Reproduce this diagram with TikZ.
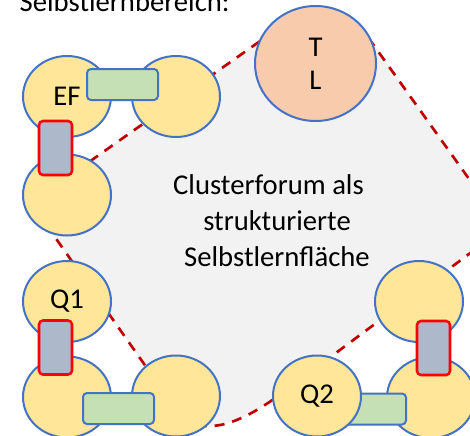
\documentclass[tikz,border=0pt]{standalone}
\usepackage{fontspec}
\setmainfont{Carlito}
\usetikzlibrary{shapes.geometric}
\definecolor{seatfill}{HTML}{FFE699}
\definecolor{seatline}{HTML}{4472C4}
\definecolor{coachfill}{HTML}{F8CBAD}
\definecolor{deskfill}{HTML}{C5E0B4}
\definecolor{boardfill}{HTML}{ADB9CA}
\definecolor{boardline}{HTML}{FF0000}
\definecolor{forumline}{HTML}{C00000}
\definecolor{forumfill}{HTML}{F2F2F2}
\tikzset{
	seat/.style={ellipse, draw=seatline, fill=seatfill, line width=1.5pt, minimum width=66pt, minimum height=60.75pt, inner sep=0pt},
	coach/.style={seat, fill=coachfill, minimum width=90.75pt, minimum height=86.25pt, align=center, font=\fontsize{21.5}{24.75}\selectfont},
	desk/.style={draw=seatline, fill=deskfill, line width=1.5pt, rounded corners=3pt, minimum width=53.25pt, minimum height=23.25pt, inner sep=0pt},
	board/.style={draw=boardline, fill=boardfill, line width=1.9pt, rounded corners=3pt, minimum width=24.75pt, minimum height=40.5pt, inner sep=0pt},
	forum/.style={draw=forumline, fill=forumfill, line width=2pt, dash pattern=on 7.5pt off 6pt}
}

\begin{document}
\begin{tikzpicture}[x=0.75pt, y=-0.75pt, font=\fontsize{21.5}{27}\selectfont]
	%%%%% FRAME %%%%%
	\useasboundingbox (0,0) rectangle (470,435);
	\clip (0,0) rectangle (470,435);
	
	\node[anchor=base west] (heading) at (15,12) {Selbstlernbereich:};
	
	%%%%% FORUM %%%%%
	\draw[forum] (31,203) -- (280,27) -- (365,33) -- (504,228) -- (280,394.5)
		.. controls (230,431.5) and (195,436) .. (175,408) -- cycle;
	
	\node[anchor=base] (forumtop) at (268.5,194) {Clusterforum als};
	\node[anchor=base] (forummid) at (277,230) {strukturierte};
	\node[anchor=base] (forumbot) at (277,266) {Selbstlernfläche};
	
	\node[coach] (tl) at (315.5,63.5) {T\\L};
	
	%%%%% EF %%%%%
	\node[seat] (ef) at (67,96.5) {EF};
	\node[seat] (efright) at (176,96.5) {};
	\node[desk] (efdesk) at (122.5,84.5) {};
	\node[seat] (efbelow) at (67,195) {};
	\node[board] (efboard) at (55.5,148) {};
	
	%%%%% Q1 %%%%%
	\node[seat] (qone) at (67,301.5) {Q1};
	\node[seat] (qonebelow) at (67,397) {};
	\node[board] (qoneboard) at (55.5,347.5) {};
	\node[seat] (qoneright) at (176,396) {};
	\node[desk] (qonedesk) at (118.5,408.5) {};
	
	%%%%% Q2 %%%%%
	\node[seat] (qtwoabove) at (419,301.5) {};
	\node[seat] (qtworight) at (431,397.5) {};
	\node[board] (qtwoboard) at (433.5,348) {};
	\node[desk] (qtwodesk) at (370.5,409) {};
	\node[seat] (qtwo) at (317,396) {Q2};
\end{tikzpicture}
\end{document}
